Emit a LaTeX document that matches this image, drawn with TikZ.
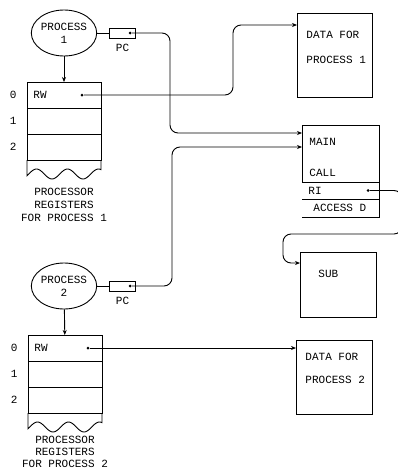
\documentclass[tikz,border=0pt]{standalone}
\usepackage{fontspec}
\setmonofont{Liberation Mono}
\usetikzlibrary{positioning,arrows.meta,shapes.geometric}

\begin{document}
\begin{tikzpicture}[
    x=1pt, y=1pt,
    line width=0.9pt,
    txt/.style={font=\ttfamily\fontsize{11}{13}\selectfont, inner sep=0pt},
    proc/.style={ellipse, draw, txt, minimum width=62pt, minimum height=46pt, align=center},
    pcbox/.style={rectangle, draw, minimum width=26pt, minimum height=10pt, inner sep=0pt},
    reg/.style={rectangle, draw, minimum width=74pt, minimum height=26pt, inner sep=0pt, outer sep=0pt},
    box/.style={rectangle, draw, inner sep=0pt, outer sep=0pt},
    dot/.style={circle, fill, inner sep=0pt, minimum size=3pt},
    arrow/.style={-{Stealth[length=5pt, width=4pt]}},
    link/.style={arrow, rounded corners=8pt}
]
\useasboundingbox (0,0) rectangle (397,-471);

% process 1
\node[proc] (proc1) at (64,-33) {PROCESS\\1};
\node[pcbox, right=12pt of proc1] (pc1) {};
\node[dot] (pcdot1) at ([xshift=-6pt]pc1.east) {};
\node[txt, below=5pt of pc1] (pclbl1) {PC};
\node[reg] (reg1a) at (64,-95) {};
\node[reg, below=0pt of reg1a] (reg1b) {};
\node[reg, below=0pt of reg1b] (reg1c) {};
\node[txt, left=10pt of reg1a] (idx1a) {0};
\node[txt, left=10pt of reg1b] (idx1b) {1};
\node[txt, left=10pt of reg1c] (idx1c) {2};
\node[txt, right=6pt of reg1a.west] (rw1) {RW};
\node[dot] (rwdot1) at ([xshift=-19pt]reg1a.east) {};
\draw (reg1c.south west) -- plot[domain=27:101, samples=60, smooth] (\x, {-174-5*cos(11.613*(\x-52))}) -- (reg1c.south east);
\node[txt, align=center, below=28pt of reg1c] (cap1) {PROCESSOR\\REGISTERS\\FOR PROCESS 1};
\draw (proc1) -- (pc1);
\draw[arrow] (proc1) -- (reg1a);

% process 2
\node[proc] (proc2) at (64,-286) {PROCESS\\2};
\node[pcbox, right=12pt of proc2] (pc2) {};
\node[dot] (pcdot2) at ([xshift=-6pt]pc2.east) {};
\node[txt, below=5pt of pc2] (pclbl2) {PC};
\node[reg] (reg2a) at (65,-348) {};
\node[reg, below=0pt of reg2a] (reg2b) {};
\node[reg, below=0pt of reg2b] (reg2c) {};
\node[txt, left=10pt of reg2a] (idx2a) {0};
\node[txt, left=10pt of reg2b] (idx2b) {1};
\node[txt, left=10pt of reg2c] (idx2c) {2};
\node[txt, right=6pt of reg2a.west] (rw2) {RW};
\node[dot] (rwdot2) at ([xshift=-14pt]reg2a.east) {};
\draw (reg2c.south west) -- plot[domain=28:102, samples=60, smooth] (\x, {-427-5*cos(11.613*(\x-53))}) -- (reg2c.south east);
\node[txt, align=center, font=\ttfamily\fontsize{11}{12}\selectfont, below=23pt of reg2c] (cap2) {PROCESSOR\\REGISTERS\\FOR PROCESS 2};
\draw (proc2) -- (pc2);
\draw[arrow] (proc2) -- (reg2a);

% program and data segments
\node[box, minimum width=75pt, minimum height=84pt] (data1) at (334.5,-55) {};
\node[txt, align=left, below right=18pt and 9pt of data1.north west] (data1txt) {DATA FOR\\[12pt]PROCESS 1};
\node[box, minimum width=77pt, minimum height=57pt] (main) at (340.5,-153.5) {};
\node[txt, below right=13pt and 7pt of main.north west] (maintxt) {MAIN};
\node[txt, above right=5pt and 7pt of main.south west] (calltxt) {CALL};
\node[box, draw=none, minimum width=77pt, minimum height=17pt, below=0pt of main] (ri) {};
\node[box, draw=none, minimum width=77pt, minimum height=18pt, below=0pt of ri] (access) {};
\node[txt, right=6pt of ri.west] (ritxt) {RI};
\node[txt, right=11pt of access.west] (accesstxt) {ACCESS D};
\node[dot] (ridot) at ([xshift=-11pt]ri.east) {};
\draw (main.south east) -- (access.south east) -- (access.south west);
\draw (ri.south west) -- (ri.south east);
\node[box, minimum width=76pt, minimum height=65pt] (sub) at (338,-284.5) {};
\node[txt, below right=18pt and 18pt of sub.north west] (subtxt) {SUB};
\node[box, minimum width=76pt, minimum height=74pt] (data2) at (334,-377) {};
\node[txt, align=left, below right=13pt and 9pt of data2.north west] (data2txt) {DATA FOR\\[10pt]PROCESS 2};

% pointers
\draw[link] (pcdot1) -| (170,-133) -- ([yshift=-8pt]main.north west);
\draw[link] (rwdot1) -| (233,-25) -- ([yshift=-12pt]data1.north west);
\draw[link] (pcdot2) -| (172,-147) -- ([yshift=-22pt]main.north west);
\draw[arrow] (rwdot2) -- (rwdot2 -| data2.west);
\draw[link] (ridot) -| (402,-234) -| (283,-263) -- ([yshift=-11pt]sub.north west);
\end{tikzpicture}
\end{document}
